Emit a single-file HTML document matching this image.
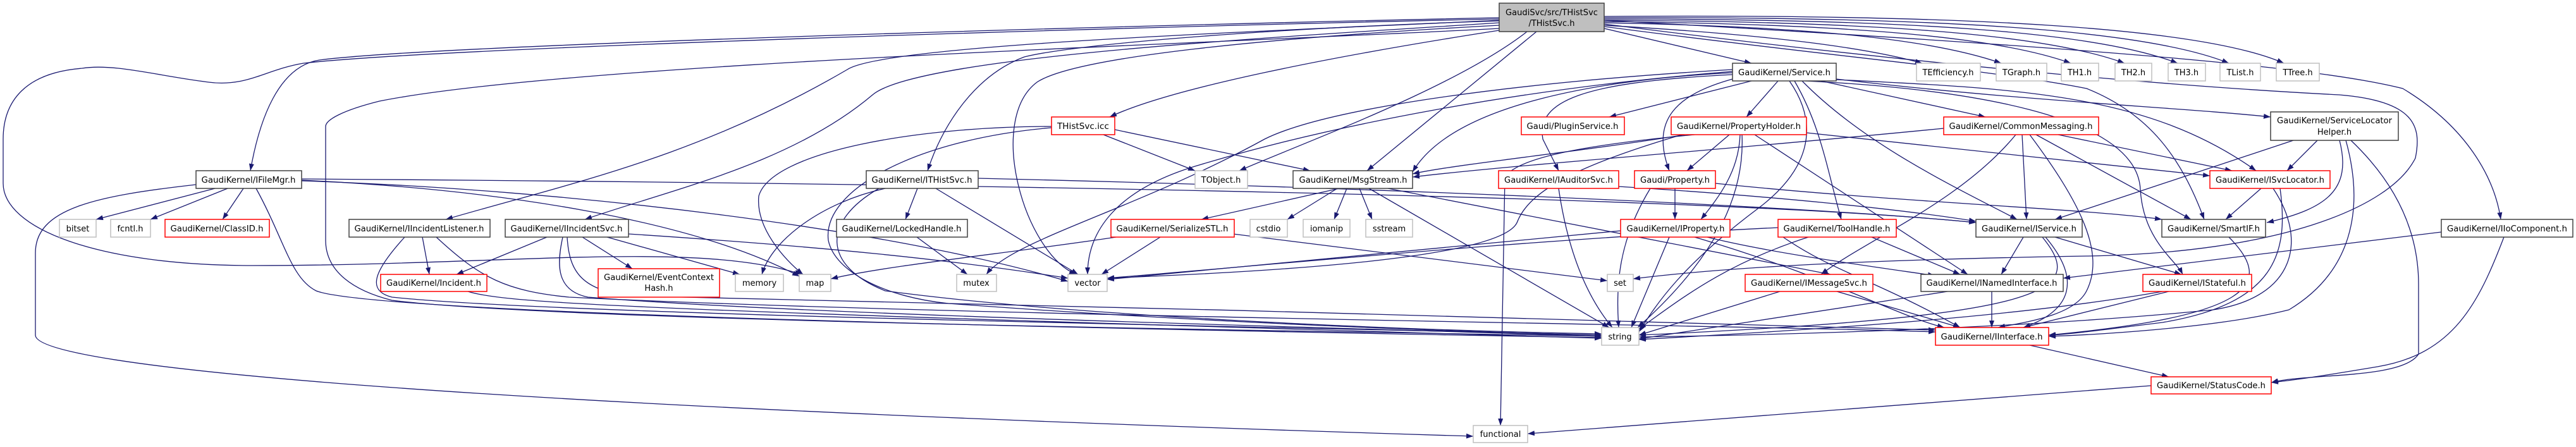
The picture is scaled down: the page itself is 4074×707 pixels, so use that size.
<!DOCTYPE html>
<html><head><meta charset="utf-8"><style>
html,body{margin:0;padding:0;background:#fff;}
svg{display:block;}
.e{fill:none;stroke:#191970;stroke-width:1.3;}
.b{fill:#fff;stroke:#404040;stroke-width:1.5;}
.r{fill:#fff;stroke:#ff0000;stroke-width:1.5;}
.g{fill:#fff;stroke:#bfbfbf;stroke-width:1.5;}
text{font-family:"DejaVu Sans","Liberation Sans",sans-serif;font-size:13px;fill:#000;text-anchor:middle;}
</style></head><body>
<svg width="4074" height="707" viewBox="0 0 4074 707" xmlns="http://www.w3.org/2000/svg">
<defs><marker id="a" markerWidth="11" markerHeight="8" refX="11" refY="4" orient="auto" markerUnits="userSpaceOnUse"><path d="M0,0 L11,4 L0,8 z" fill="#191970"/></marker></defs>
<g class="e" marker-end="url(#a)">
<!-- root edges -->
<path d="M2371,28 C1800,40 700,70 505,95 C440,105 410,190 396,270"/>
<path d="M2371,30 C1800,42 700,75 480,100 C420,110 390,138 330,130 C250,120 180,100 130,108 C40,115 5,160 5,220 L5,290 C5,360 150,420 400,420 C800,420 1100,380 1268,434"/>
<path d="M2371,48 C2100,90 1850,140 1755,185"/>
<path d="M2371,33 C2000,45 1700,70 1620,90 C1540,120 1490,200 1467,270"/>
<path d="M2371,32 C2000,50 1400,70 1340,110 C1100,250 900,290 705,347"/>
<path d="M2371,36 C2000,60 1450,90 1380,150 C1250,260 1060,300 925,347"/>
<path d="M2371,40 C2000,60 1700,90 1640,130 C1560,190 1620,400 1702,434"/>
<path d="M2371,45 C1900,70 900,100 600,160 C540,175 515,190 515,200 L515,380 C515,430 560,460 620,475 C900,510 2200,525 2533,532"/>
<path d="M2415,50 C2300,140 2050,230 1960,270"/>
<path d="M2430,50 L2162,270"/>
<path d="M2537,45 L2770,100"/>
<path d="M2537,40 C2800,55 2950,75 3040,100"/>
<path d="M2537,36 C2850,42 3050,60 3165,100"/>
<path d="M2537,34 C2900,38 3150,55 3275,100"/>
<path d="M2537,32 C2950,34 3230,52 3360,100"/>
<path d="M2537,30 C3000,30 3310,48 3444,100"/>
<path d="M2537,28 C3050,26 3390,45 3525,100"/>
<path d="M2537,26 C3100,22 3480,42 3612,100"/>
<path d="M2537,32 C3400,80 3680,110 3800,140 C3900,200 3945,280 3955,347"/>
<path d="M2537,38 C3100,110 3500,140 3700,150 C3820,160 3830,200 3820,250 C3780,330 3600,400 3300,405 C3000,410 2750,420 2583,441"/>
<path d="M2537,42 C2900,90 3150,110 3300,140 C3400,180 3450,250 3486,347"/>
<!-- Service -->
<path d="M2770,128 L2545,185"/>
<path d="M2812,128 L2762,185"/>
<path d="M2740,125 C2650,150 2610,190 2640,270"/>
<path d="M2740,118 C2500,130 2430,160 2440,220 L2465,270"/>
<path d="M2740,115 C2550,125 2300,160 2234,272"/>
<path d="M2740,113 C2400,140 2100,200 1900,260 C1760,300 1720,370 1720,434"/>
<path d="M2740,110 C2400,130 2100,170 2000,220 C1800,330 1600,380 1560,434"/>
<path d="M2880,128 L3140,185"/>
<path d="M2904,125 C3200,160 3450,170 3591,185"/>
<path d="M2904,126 C3200,140 3400,150 3568,270"/>
<path d="M2850,128 C2950,230 3100,300 3190,347"/>
<path d="M2838,128 C2880,200 2890,270 2912,347"/>
<path d="M2855,128 C3100,140 3380,180 3385,300 C3390,380 3440,410 3452,434"/>
<path d="M2830,128 C2880,200 2860,270 2780,330 C2660,420 2620,480 2592,525"/>
<!-- PropertyHolder -->
<path d="M2735,213 L2668,270"/>
<path d="M2665,213 C2500,240 2300,260 2234,275"/>
<path d="M2660,213 C2500,260 2420,300 2400,350 C2380,410 2000,430 1751,440"/>
<path d="M2752,213 C2750,270 2720,310 2690,347"/>
<path d="M2755,213 C2760,320 2700,420 2590,518"/>
<path d="M2775,213 L3112,434"/>
<path d="M2857,210 L3495,278"/>
<path d="M2680,213 C2500,230 2400,250 2380,280 L2373,673"/>
<!-- CommonMessaging -->
<path d="M3074,203 C2700,240 2400,260 2234,280"/>
<path d="M3188,213 C3100,320 2950,380 2880,434"/>
<path d="M3198,213 L3205,347"/>
<path d="M3220,213 L3465,347"/>
<path d="M3255,213 L3530,270"/>
<path d="M3210,213 C3290,320 3330,400 3300,460 C3280,500 3200,510 3160,518"/>
<!-- ServiceLocatorHelper -->
<path d="M3665,222 L3617,270"/>
<path d="M3627,222 L3250,347"/>
<path d="M3700,222 C3720,300 3680,330 3585,352"/>
<path d="M3718,222 C3800,300 3825,380 3825,450 L3825,560 C3800,600 3650,590 3592,605"/>
<path d="M3710,222 C3740,330 3720,430 3620,490 C3500,520 3300,530 3240,532"/>
<!-- ISvcLocator -->
<path d="M3576,298 L3520,347"/>
<path d="M3606,298 C3620,400 3600,480 3420,510 C3300,525 3260,530 3240,530"/>
<path d="M3595,298 C3650,380 3630,470 3500,490 C3200,520 2800,530 2592,533"/>
<!-- IService etc -->
<path d="M3200,375 L3165,434"/>
<path d="M3250,375 L3450,434"/>
<path d="M3235,375 C3290,440 3280,490 3200,518"/>
<path d="M3230,375 C3300,460 3250,500 2592,530"/>
<path d="M3525,375 C3600,450 3560,500 3240,530"/>
<path d="M2960,375 L3100,434"/>
<path d="M2860,375 C2720,420 2650,480 2592,520"/>
<path d="M2812,360 C2400,380 2000,420 1751,440"/>
<path d="M2820,375 C2900,430 2960,440 3100,518"/>
<path d="M2905,461 L3100,518"/>
<path d="M2815,461 L2592,530"/>
<path d="M3150,461 L3150,518"/>
<path d="M3080,461 L2592,536"/>
<path d="M3430,461 L3200,518"/>
<path d="M3420,461 C3200,500 2900,520 2592,537"/>
<path d="M3210,546 L3430,596"/>
<path d="M3861,367 L3263,440"/>
<path d="M3960,375 C3920,480 3880,560 3760,580 C3700,590 3640,600 3592,605"/>
<path d="M3402,610 L2416,686"/>
<!-- IProperty / Property / IAuditorSvc -->
<path d="M2640,375 L2580,518"/>
<path d="M2563,365 C2200,400 1900,430 1751,442"/>
<path d="M2700,375 C2800,400 2950,420 3060,436"/>
<path d="M2680,375 C2900,440 3000,500 3075,518"/>
<path d="M2649,298 L2649,347"/>
<path d="M2610,298 C2560,380 2555,450 2560,518"/>
<path d="M2713,290 C3000,320 3300,330 3419,347"/>
<path d="M2465,298 C2480,400 2510,470 2550,518"/>
<path d="M2560,295 C2800,310 3000,330 3125,350"/>
<!-- MsgStream -->
<path d="M2118,298 L1900,347"/>
<path d="M2115,298 L2036,347"/>
<path d="M2130,298 L2110,347"/>
<path d="M2150,298 L2170,347"/>
<path d="M2165,298 L2545,518"/>
<path d="M2195,298 L2895,434"/>
<!-- SerializeSTL -->
<path d="M1835,375 L1742,434"/>
<path d="M1765,375 C1600,400 1400,420 1314,441"/>
<path d="M1950,370 L2542,444"/>
<!-- THistSvc.icc -->
<path d="M1745,213 L1890,270"/>
<path d="M1763,205 L2072,270"/>
<path d="M1663,200 C1450,200 1220,240 1200,310 C1195,360 1240,410 1270,434"/>
<path d="M1663,202 C1450,220 1300,300 1310,380 C1320,430 1400,470 1500,480 C1900,510 2300,525 2533,530"/>
<!-- ITHistSvc -->
<path d="M1451,298 L1432,347"/>
<path d="M1480,298 L1705,434"/>
<path d="M1547,282 C2300,300 2900,330 3125,352"/>
<path d="M1400,298 C1300,320 1220,380 1205,434"/>
<path d="M1390,298 C1300,350 1300,420 1400,460 C1700,500 2200,522 2533,528"/>
<path d="M1450,375 L1530,434"/>
<!-- IFileMgr -->
<path d="M340,298 L152,347"/>
<path d="M360,298 L238,347"/>
<path d="M385,298 L352,347"/>
<path d="M405,298 C450,380 460,440 500,460 C600,500 2000,525 2533,534"/>
<path d="M477,286 C900,300 1400,360 1689,445"/>
<path d="M477,285 C800,300 1100,350 1264,437"/>
<path d="M477,283 C1500,290 2700,310 3125,352"/>
<path d="M310,292 C150,310 56,330 56,400 L56,530 C56,580 700,640 2330,690"/>
<!-- Incident listeners -->
<path d="M668,375 L679,434"/>
<path d="M690,375 C760,440 800,460 900,470 C1500,500 2800,515 3061,525"/>
<path d="M640,375 C590,430 580,460 620,470 C900,500 2200,520 2533,530"/>
<path d="M865,375 L722,434"/>
<path d="M921,375 L1000,425"/>
<path d="M960,375 C1050,400 1120,420 1170,434"/>
<path d="M994,370 C1300,390 1500,410 1689,440"/>
<path d="M890,375 C880,420 880,460 930,470 C1300,500 2200,520 2533,532"/>
<path d="M897,375 C900,430 920,460 1000,468 C1500,480 2800,510 3061,522"/>
<path d="M740,461 C800,480 1000,490 2533,535"/>
</g>
<!-- nodes -->
<rect x="2371" y="5" width="166" height="45" fill="#bfbfbf" stroke="#404040" stroke-width="1.5"/>
<text x="2454" y="24" textLength="146" lengthAdjust="spacingAndGlyphs">GaudiSvc/src/THistSvc</text>
<text x="2454" y="41">/THistSvc.h</text>

<rect class="b" x="310" y="270" width="167" height="28"/><text x="393" y="289" textLength="149" lengthAdjust="spacingAndGlyphs">GaudiKernel/IFileMgr.h</text>
<rect class="g" x="94" y="347" width="58" height="28"/><text x="123" y="366">bitset</text>
<rect class="g" x="175" y="347" width="63" height="28"/><text x="206" y="366">fcntl.h</text>
<rect class="r" x="261" y="347" width="165" height="28"/><text x="343" y="366" textLength="147" lengthAdjust="spacingAndGlyphs">GaudiKernel/ClassID.h</text>
<rect class="b" x="552" y="347" width="223" height="28"/><text x="663" y="366" textLength="205" lengthAdjust="spacingAndGlyphs">GaudiKernel/IIncidentListener.h</text>
<rect class="b" x="799" y="347" width="195" height="28"/><text x="896" y="366" textLength="177" lengthAdjust="spacingAndGlyphs">GaudiKernel/IIncidentSvc.h</text>
<rect class="r" x="602" y="434" width="168" height="27"/><text x="686" y="452" textLength="150" lengthAdjust="spacingAndGlyphs">GaudiKernel/Incident.h</text>
<rect class="r" x="946" y="425" width="192" height="45"/><text x="1042" y="443" textLength="174" lengthAdjust="spacingAndGlyphs">GaudiKernel/EventContext</text><text x="1042" y="460">Hash.h</text>
<rect class="g" x="1163" y="434" width="76" height="27"/><text x="1201" y="452">memory</text>
<rect class="g" x="1264" y="434" width="50" height="27"/><text x="1289" y="452">map</text>
<rect class="r" x="1663" y="185" width="100" height="28"/><text x="1713" y="204" textLength="82" lengthAdjust="spacingAndGlyphs">THistSvc.icc</text>
<rect class="b" x="1370" y="270" width="177" height="28"/><text x="1458" y="289" textLength="159" lengthAdjust="spacingAndGlyphs">GaudiKernel/ITHistSvc.h</text>
<rect class="g" x="1890" y="270" width="83" height="28"/><text x="1931" y="289">TObject.h</text>
<rect class="b" x="2045" y="270" width="189" height="28"/><text x="2140" y="289" textLength="171" lengthAdjust="spacingAndGlyphs">GaudiKernel/MsgStream.h</text>
<rect class="r" x="2370" y="270" width="190" height="28"/><text x="2465" y="289" textLength="172" lengthAdjust="spacingAndGlyphs">GaudiKernel/IAuditorSvc.h</text>
<rect class="r" x="2585" y="270" width="128" height="28"/><text x="2649" y="289" textLength="110" lengthAdjust="spacingAndGlyphs">Gaudi/Property.h</text>
<rect class="r" x="2406" y="185" width="163" height="28"/><text x="2487" y="204" textLength="145" lengthAdjust="spacingAndGlyphs">Gaudi/PluginService.h</text>
<rect class="b" x="1323" y="347" width="207" height="28"/><text x="1426" y="366" textLength="189" lengthAdjust="spacingAndGlyphs">GaudiKernel/LockedHandle.h</text>
<rect class="r" x="1757" y="347" width="195" height="28"/><text x="1854" y="366" textLength="177" lengthAdjust="spacingAndGlyphs">GaudiKernel/SerializeSTL.h</text>
<rect class="g" x="1977" y="347" width="59" height="28"/><text x="2006" y="366">cstdio</text>
<rect class="g" x="2061" y="347" width="74" height="28"/><text x="2098" y="366">iomanip</text>
<rect class="g" x="2160" y="347" width="74" height="28"/><text x="2197" y="366">sstream</text>
<rect class="r" x="2563" y="347" width="173" height="28"/><text x="2650" y="366" textLength="155" lengthAdjust="spacingAndGlyphs">GaudiKernel/IProperty.h</text>
<rect class="g" x="1513" y="434" width="63" height="27"/><text x="1544" y="452">mutex</text>
<rect class="g" x="1689" y="434" width="62" height="27"/><text x="1720" y="452">vector</text>
<rect class="g" x="2542" y="434" width="41" height="27"/><text x="2562" y="452">set</text>
<rect class="g" x="2533" y="518" width="59" height="28"/><text x="2562" y="537">string</text>
<rect class="g" x="2330" y="673" width="86" height="27"/><text x="2373" y="691">functional</text>
<rect class="b" x="2740" y="100" width="164" height="28"/><text x="2822" y="119" textLength="146" lengthAdjust="spacingAndGlyphs">GaudiKernel/Service.h</text>
<rect class="g" x="3031" y="100" width="101" height="28"/><text x="3081" y="119">TEfficiency.h</text>
<rect class="g" x="3157" y="100" width="80" height="28"/><text x="3197" y="119">TGraph.h</text>
<rect class="g" x="3260" y="100" width="59" height="28"/><text x="3289" y="119">TH1.h</text>
<rect class="g" x="3345" y="100" width="58" height="28"/><text x="3374" y="119">TH2.h</text>
<rect class="g" x="3429" y="100" width="59" height="28"/><text x="3458" y="119">TH3.h</text>
<rect class="g" x="3511" y="100" width="64" height="28"/><text x="3543" y="119">TList.h</text>
<rect class="g" x="3600" y="100" width="68" height="28"/><text x="3634" y="119">TTree.h</text>
<rect class="r" x="2643" y="185" width="214" height="28"/><text x="2750" y="204" textLength="196" lengthAdjust="spacingAndGlyphs">GaudiKernel/PropertyHolder.h</text>
<rect class="r" x="3074" y="185" width="245" height="28"/><text x="3196" y="204" textLength="227" lengthAdjust="spacingAndGlyphs">GaudiKernel/CommonMessaging.h</text>
<rect class="b" x="3591" y="177" width="202" height="45"/><text x="3692" y="195" textLength="182" lengthAdjust="spacingAndGlyphs">GaudiKernel/ServiceLocator</text><text x="3692" y="213">Helper.h</text>
<rect class="r" x="3495" y="270" width="190" height="28"/><text x="3590" y="289" textLength="172" lengthAdjust="spacingAndGlyphs">GaudiKernel/ISvcLocator.h</text>
<rect class="r" x="2812" y="347" width="187" height="28"/><text x="2905" y="366" textLength="169" lengthAdjust="spacingAndGlyphs">GaudiKernel/ToolHandle.h</text>
<rect class="b" x="3125" y="347" width="168" height="28"/><text x="3209" y="366" textLength="150" lengthAdjust="spacingAndGlyphs">GaudiKernel/IService.h</text>
<rect class="b" x="3419" y="347" width="164" height="28"/><text x="3501" y="366" textLength="146" lengthAdjust="spacingAndGlyphs">GaudiKernel/SmartIF.h</text>
<rect class="b" x="3861" y="347" width="208" height="28"/><text x="3965" y="366" textLength="190" lengthAdjust="spacingAndGlyphs">GaudiKernel/IIoComponent.h</text>
<rect class="r" x="2760" y="434" width="202" height="27"/><text x="2861" y="452" textLength="184" lengthAdjust="spacingAndGlyphs">GaudiKernel/IMessageSvc.h</text>
<rect class="b" x="3038" y="434" width="225" height="27"/><text x="3150" y="452" textLength="207" lengthAdjust="spacingAndGlyphs">GaudiKernel/INamedInterface.h</text>
<rect class="r" x="3389" y="434" width="172" height="27"/><text x="3475" y="452" textLength="154" lengthAdjust="spacingAndGlyphs">GaudiKernel/IStateful.h</text>
<rect class="r" x="3061" y="518" width="179" height="28"/><text x="3150" y="537" textLength="161" lengthAdjust="spacingAndGlyphs">GaudiKernel/IInterface.h</text>
<rect class="r" x="3402" y="596" width="190" height="27"/><text x="3497" y="614" textLength="172" lengthAdjust="spacingAndGlyphs">GaudiKernel/StatusCode.h</text>
</svg>
</body></html>
